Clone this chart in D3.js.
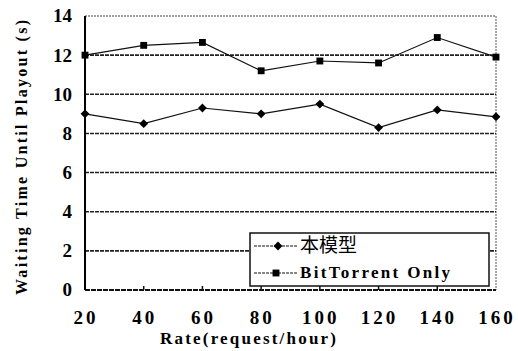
<!DOCTYPE html>
<html lang="en">
<head>
    <meta charset="utf-8">
    <title>Waiting Time Until Playout</title>
    <style>
        body { margin: 0; background: #fff; }
    </style>
</head>
<body>
    <svg id="chart" width="518" height="351"></svg>
    <script src="https://cdn.jsdelivr.net/npm/d3@7"></script>
    <script>
        // values
        const rates = [20, 40, 60, 80, 100, 120, 140, 160];
        const modelWait = [9.0, 8.5, 9.3, 9.0, 9.5, 8.3, 9.2, 8.85];
        const btOnlyWait = [12.0, 12.5, 12.65, 11.2, 11.7, 11.6, 12.9, 11.9];
        const seriesNames = ["本模型", "BitTorrent Only"];
        const yTicks = [0, 2, 4, 6, 8, 10, 12, 14];

        const svg = d3.select("#chart");
        const margin = {top: 16, right: 22, bottom: 61, left: 85};
        const width = +svg.attr("width");
        const height = +svg.attr("height");

        const x = d3.scaleLinear().domain([20, 160]).range([margin.left, width - margin.right]);
        const y = d3.scaleLinear().domain([0, 14]).range([height - margin.bottom, margin.top]);

        const serif = "'Liberation Serif', 'Times New Roman', serif";

        // frame: top and right edges are faint dotted in the scan
        svg.append("line")
            .attr("x1", x(20)).attr("x2", x(160))
            .attr("y1", y(14)).attr("y2", y(14))
            .attr("stroke", "#444").attr("stroke-width", 1.2).attr("stroke-dasharray", "2,1");
        svg.append("line")
            .attr("x1", x(160)).attr("x2", x(160))
            .attr("y1", y(14)).attr("y2", y(0))
            .attr("stroke", "#555").attr("stroke-width", 1).attr("stroke-dasharray", "2,1");

        // horizontal grid
        svg.append("g")
            .selectAll("line")
            .data(yTicks.filter(d => d > 0 && d < 14))
            .join("line")
                .attr("x1", x(20)).attr("x2", x(160))
                .attr("y1", d => y(d)).attr("y2", d => y(d))
                .attr("stroke", "#222").attr("stroke-width", 1.6).attr("stroke-dasharray", "4,1");

        // bottom axis with small inward ticks
        svg.append("line")
            .attr("x1", x(20)).attr("x2", x(160))
            .attr("y1", y(0)).attr("y2", y(0))
            .attr("stroke", "#111").attr("stroke-width", 1.8).attr("stroke-dasharray", "5,1");
        svg.append("g")
            .selectAll("line")
            .data(rates.slice(1, -1))
            .join("line")
                .attr("x1", d => x(d)).attr("x2", d => x(d))
                .attr("y1", y(0)).attr("y2", y(0) - 4)
                .attr("stroke", "#111").attr("stroke-width", 1.5);

        // left axis
        svg.append("line")
            .attr("x1", x(20)).attr("x2", x(20))
            .attr("y1", y(14)).attr("y2", y(0))
            .attr("stroke", "#000").attr("stroke-width", 2);

        // tick labels
        svg.append("g")
            .selectAll("text")
            .data(yTicks)
            .join("text")
                .attr("x", 72)
                .attr("y", d => y(d) + 2)
                .attr("text-anchor", "end")
                .attr("dominant-baseline", "middle")
                .attr("font-family", serif)
                .attr("font-weight", "bold")
                .attr("font-size", 19)
                .text(d => d);

        svg.append("g")
            .selectAll("text")
            .data(rates)
            .join("text")
                .attr("x", d => x(d) + 1)
                .attr("y", 324)
                .attr("text-anchor", "middle")
                .attr("font-family", serif)
                .attr("font-weight", "bold")
                .attr("font-size", 19)
                .attr("letter-spacing", 3)
                .text(d => d);

        // axis titles (typewriter-like spacing in the scan)
        svg.append("text")
            .attr("x", 160)
            .attr("y", 344)
            .attr("font-family", serif)
            .attr("font-weight", "bold")
            .attr("font-size", 17)
            .attr("textLength", 176)
            .attr("lengthAdjust", "spacing")
            .text("Rate(request/hour)");

        svg.append("text")
            .attr("transform", "translate(27,295) rotate(-90)")
            .attr("font-family", serif)
            .attr("font-weight", "bold")
            .attr("font-size", 16)
            .attr("textLength", 275)
            .attr("lengthAdjust", "spacing")
            .text("Waiting Time Until Playout (s)");

        // series
        const line = d3.line()
            .x((d, i) => x(rates[i]))
            .y(d => y(d));

        const diamond = d3.symbol().type(d3.symbolDiamond2).size(50);
        const square = d3.symbol().type(d3.symbolSquare2).size(60);

        function drawSeries(values, symbol) {
            const g = svg.append("g");
            g.append("path")
                .attr("d", line(values))
                .attr("fill", "none")
                .attr("stroke", "#111")
                .attr("stroke-width", 1.2);
            g.selectAll("path.pt")
                .data(values)
                .join("path")
                    .attr("class", "pt")
                    .attr("transform", (d, i) => `translate(${x(rates[i])},${y(d)})`)
                    .attr("d", symbol())
                    .attr("fill", "#000");
        }

        drawSeries(modelWait, diamond);
        drawSeries(btOnlyWait, square);

        // legend
        const legend = svg.append("g").attr("transform", "translate(250,233)");
        legend.append("rect")
            .attr("width", 239).attr("height", 53)
            .attr("fill", "#fff")
            .attr("stroke", "#111").attr("stroke-width", 1.5);

        const symbols = [diamond, square];
        seriesNames.forEach((name, i) => {
            const yy = 13 + i * 27;
            legend.append("line")
                .attr("x1", 4).attr("x2", 48)
                .attr("y1", yy).attr("y2", yy)
                .attr("stroke", "#111").attr("stroke-width", 1.2)
                .attr("stroke-dasharray", "3,1");
            legend.append("path")
                .attr("transform", `translate(${i === 0 ? 28 : 26},${yy})`)
                .attr("d", symbols[i]())
                .attr("fill", "#000");
            const t = legend.append("text")
                .attr("x", 50)
                .attr("y", yy + 1)
                .attr("dominant-baseline", "middle")
                .text(name);
            if (i === 0) {
                t.attr("font-family", "'Noto Sans CJK SC', sans-serif")
                    .attr("font-size", 19);
            } else {
                t.attr("font-family", serif)
                    .attr("font-weight", "bold")
                    .attr("font-size", 17)
                    .attr("textLength", 150)
                    .attr("lengthAdjust", "spacing");
            }
        });
    </script>
</body>
</html>
